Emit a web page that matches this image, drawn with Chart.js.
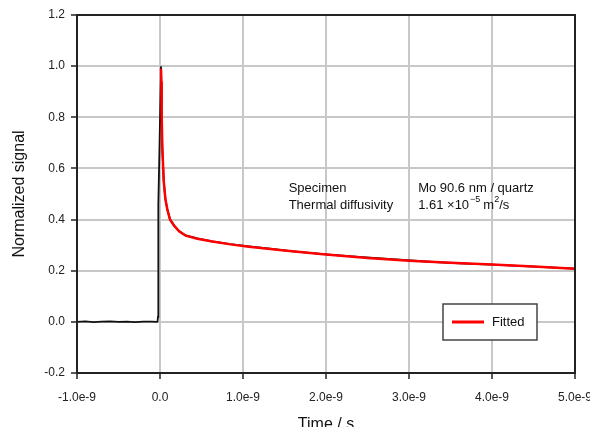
<!DOCTYPE html>
<html>
<head>
<meta charset="utf-8">
<script src="https://cdn.jsdelivr.net/npm/chart.js@4.4.1/dist/chart.umd.min.js"></script>
<style>
  html, body { margin: 0; padding: 0; background: #fff; }
  canvas { display: block; }
</style>
</head>
<body>
<canvas id="myChart" width="590" height="427"></canvas>
<script>
// times are kept in ns, the axis prints them as e-9 seconds
const measuredTime = [-1.0, -0.9, -0.8, -0.7, -0.6, -0.5, -0.4, -0.3, -0.2, -0.1, -0.04, -0.03,
  -0.024, -0.022, -0.018, -0.005, 0.012, 0.016, 0.02, 0.028, 0.045, 0.065, 0.088, 0.12, 0.17,
  0.23, 0.31, 0.45, 0.63, 0.85, 1.07, 1.3, 1.6, 2.0, 2.4, 2.8, 3.2, 3.6, 4.0, 4.5, 5.0];
const measuredSignal = [0.0, 0.002, -0.001, 0.001, 0.002, 0.0, 0.001, -0.001, 0.001, 0.001, 0.0, 0.001,
  0.02, 0.3, 0.46, 0.7, 1.0, 0.93, 0.8, 0.68, 0.55, 0.48, 0.44, 0.401, 0.377,
  0.355, 0.338, 0.326, 0.315, 0.304, 0.295, 0.287, 0.276, 0.264, 0.254, 0.245, 0.236, 0.229, 0.224, 0.216, 0.208];

const fittedTime = [0.012, 0.016, 0.02, 0.028, 0.045, 0.065, 0.088, 0.12, 0.17, 0.23, 0.31,
  0.45, 0.63, 0.85, 1.07, 1.5, 2.0, 2.5, 3.0, 3.5, 4.0, 4.5, 5.0];
const fittedSignal = [0.99, 0.94, 0.81, 0.68, 0.55, 0.48, 0.44, 0.40, 0.376, 0.354, 0.337,
  0.325, 0.314, 0.303, 0.294, 0.279, 0.263, 0.25, 0.239, 0.231, 0.224, 0.216, 0.208];

const xTicks = [-1, 0, 1, 2, 3, 4, 5];
const yTicks = [-0.2, 0, 0.2, 0.4, 0.6, 0.8, 1.0, 1.2];

const infoRows = [
  ['Specimen', 'Mo 90.6 nm / quartz'],
  ['Thermal diffusivity', '1.61 \u00d710']
];
const legendLabel = 'Fitted';

const FONT = '"Liberation Sans", Arial, sans-serif';

const toPoints = (xs, ys) => xs.map((t, i) => ({ x: t, y: ys[i] }));

// frame, text block and the small legend box inside the plot
const overlay = {
  id: 'overlay',
  afterDatasetsDraw(chart) {
    const { ctx, chartArea: a, scales: { x, y } } = chart;
    ctx.save();
    ctx.strokeStyle = '#222';
    ctx.lineWidth = 2;
    ctx.strokeRect(a.left, a.top, a.right - a.left, a.bottom - a.top);

    ctx.fillStyle = '#111';
    ctx.textBaseline = 'middle';
    ctx.textAlign = 'left';
    ctx.font = '13px ' + FONT;
    const c1 = x.getPixelForValue(1.55);
    const c2 = x.getPixelForValue(3.11);
    const r1 = y.getPixelForValue(0.52);
    const r2 = y.getPixelForValue(0.457);
    ctx.fillText(infoRows[0][0], c1, r1);
    ctx.fillText(infoRows[0][1], c2, r1);
    ctx.fillText(infoRows[1][0], c1, r2);

    // 1.61 x10^-5 m^2/s
    let px = c2;
    ctx.fillText(infoRows[1][1], px, r2);
    px += ctx.measureText(infoRows[1][1]).width;
    ctx.font = '9px ' + FONT;
    ctx.fillText('\u22125', px + 1, r2 - 5);
    px += ctx.measureText('\u22125').width + 4;
    ctx.font = '13px ' + FONT;
    ctx.fillText('m', px, r2);
    px += ctx.measureText('m').width;
    ctx.font = '9px ' + FONT;
    ctx.fillText('2', px, r2 - 5);
    px += ctx.measureText('2').width;
    ctx.font = '13px ' + FONT;
    ctx.fillText('/s', px, r2);

    // legend
    const bx = a.right - 132, by = a.bottom - 69, bw = 94, bh = 36;
    ctx.fillStyle = '#fff';
    ctx.fillRect(bx, by, bw, bh);
    ctx.strokeStyle = '#444';
    ctx.lineWidth = 1.5;
    ctx.strokeRect(bx, by, bw, bh);
    ctx.strokeStyle = '#ff0000';
    ctx.lineWidth = 3;
    ctx.beginPath();
    ctx.moveTo(bx + 9, by + bh / 2);
    ctx.lineTo(bx + 41, by + bh / 2);
    ctx.stroke();
    ctx.fillStyle = '#111';
    ctx.font = '13px ' + FONT;
    ctx.fillText(legendLabel, bx + 49, by + bh / 2);
    ctx.restore();
  }
};

const gridStyle = {
  color: '#c8c8c8',
  lineWidth: 2,
  tickColor: '#222',
  tickLength: 6,
  tickWidth: 1.5
};

new Chart(document.getElementById('myChart'), {
  type: 'line',
  data: {
    datasets: [
      {
        label: legendLabel,
        data: toPoints(fittedTime, fittedSignal),
        borderColor: '#ff0000',
        borderWidth: 2.5,
        pointRadius: 0,
        tension: 0
      },
      {
        label: 'Measured',
        data: toPoints(measuredTime, measuredSignal),
        borderColor: '#111',
        borderWidth: 1.8,
        pointRadius: 0,
        tension: 0
      }
    ]
  },
  options: {
    responsive: false,
    animation: false,
    devicePixelRatio: 1,
    layout: { padding: { top: 15, right: 15, left: 0, bottom: 0 } },
    plugins: {
      legend: { display: false },
      tooltip: { enabled: false }
    },
    scales: {
      x: {
        type: 'linear',
        min: -1,
        max: 5,
        grid: gridStyle,
        border: { color: '#222', width: 2 },
        afterBuildTicks: s => { s.ticks = xTicks.map(v => ({ value: v })); },
        afterFit: s => { s.height = 54; s.paddingLeft = 0; s.paddingRight = 0; },
        ticks: {
          padding: 11,
          color: '#222',
          font: { family: FONT, size: 12 },
          maxRotation: 0,
          autoSkip: false,
          callback: v => (v === 0 ? '0.0' : v.toFixed(1) + 'e-9')
        },
        title: {
          display: true,
          text: 'Time / s',
          color: '#111',
          font: { family: FONT, size: 16 },
          padding: { top: 0, bottom: -7.5 }
        }
      },
      y: {
        min: -0.2,
        max: 1.2,
        grid: gridStyle,
        border: { color: '#222', width: 2 },
        afterBuildTicks: s => { s.ticks = yTicks.map(v => ({ value: v })); },
        afterFit: s => { s.width = 77; s.paddingTop = 0; s.paddingBottom = 0; },
        ticks: {
          padding: 6,
          color: '#222',
          font: { family: FONT, size: 12 },
          callback: v => v.toFixed(1)
        },
        title: {
          display: true,
          text: 'Normalized signal',
          color: '#111',
          font: { family: FONT, size: 16 },
          padding: { top: 10, bottom: 0 }
        }
      }
    }
  },
  plugins: [overlay]
});
</script>
</body>
</html>
